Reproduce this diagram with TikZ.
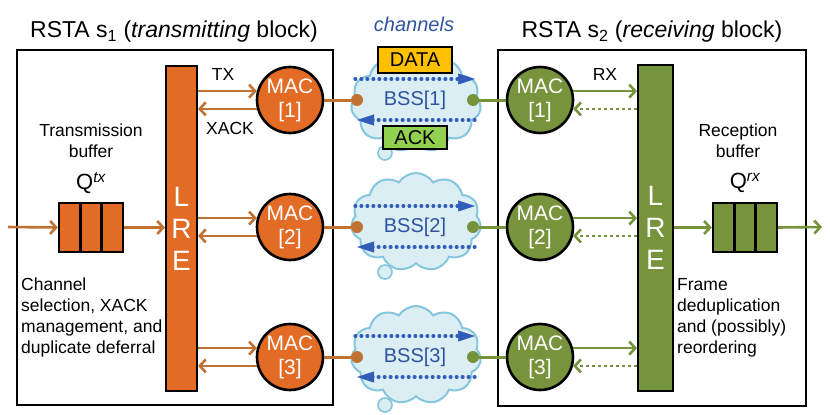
\documentclass[tikz,border=0pt]{standalone}
\usepackage{fontspec}
\setmainfont{Liberation Sans}
\usetikzlibrary{arrows.meta,shapes.symbols,positioning}
\definecolor{txfill}{RGB}{226,107,38}
\definecolor{txline}{RGB}{192,114,50}
\definecolor{rxfill}{RGB}{119,147,60}
\definecolor{rxline}{RGB}{118,146,58}
\definecolor{cloudfill}{RGB}{219,238,244}
\definecolor{cloudline}{RGB}{132,198,222}
\definecolor{chantext}{RGB}{46,84,160}
\definecolor{chanarrow}{RGB}{50,92,186}
\definecolor{datafill}{RGB}{255,192,0}
\definecolor{ackfill}{RGB}{146,208,80}
\tikzset{
  blockbox/.style={draw=black, line width=2.6pt},
  lrebar/.style={draw=black, line width=2pt, minimum width=31pt, minimum height=325pt,
    inner sep=0pt, text=white, align=center, font=\fontsize{28}{32}\selectfont},
  macnode/.style={circle, draw=black, line width=2.6pt, minimum size=66pt, inner sep=0pt,
    text=white, align=center, font=\fontsize{21}{24}\selectfont},
  cell/.style={draw=black, line width=2.4pt, minimum width=21.3pt, minimum height=49pt, inner sep=0pt},
  txarrow/.style={draw=txline, line width=2.6pt, -{Straight Barb[length=6pt,width=13pt]}},
  rxarrow/.style={draw=rxline, line width=2.6pt, -{Straight Barb[length=6pt,width=13pt]}},
  rxdots/.style={rxarrow, dash pattern=on 3pt off 3pt},
  chandots/.style={draw=chanarrow, line width=3.2pt, line cap=round, dash pattern=on 0.8pt off 5.2pt,
    shorten >=12pt},
  chantip/.style={draw=chanarrow, fill=chanarrow, line width=0.5pt, -{Triangle[length=17pt,width=11pt]}},
  chancloud/.style={cloud, cloud puffs=11, cloud puff arc=115, cloud ignores aspect, draw=cloudline,
    fill=cloudfill, line width=2pt, minimum width=130pt, minimum height=98pt},
  lbl/.style={font=\fontsize{17.5}{21}\selectfont, inner sep=0pt},
  pkt/.style={draw=black, line width=1.4pt, inner sep=0pt, font=\fontsize{20}{22}\selectfont},
}
\begin{document}
\begin{tikzpicture}[x=1pt, y=-1pt]
\useasboundingbox (0,0) rectangle (830,415);
% blocks
\draw[blockbox] (17,50) rectangle (333,405);
\draw[blockbox] (498,50) rectangle (806,406);
\node[font=\fontsize{23}{26}\selectfont] (titletx) at (174,32) {RSTA s\textsubscript{1} (\textit{transmitting} block)};
\node[font=\fontsize{23}{26}\selectfont] (titlerx) at (652,32) {RSTA s\textsubscript{2} (\textit{receiving} block)};
\node[font=\fontsize{20}{22}\selectfont\itshape, text=chantext] (chan) at (414,24) {channels};
% LRE bars
\node[lrebar, fill=txfill] (lreL) at (181.5,228.5) {L\\R\\E};
\node[lrebar, fill=rxfill, minimum width=35pt, minimum height=326pt] (lreR) at (655.5,228) {L\\R\\E};
% channels
\foreach \i/\y/\cy in {1/100/103,2/227/222,3/357/355}{
\node[chancloud] (bss\i) at (416,\cy) {};
\draw[cloudline, fill=cloudfill, line width=1.6pt] ([shift={(-31,50)}]bss\i.center) circle (7);
\node[text=chantext, font=\fontsize{20}{22}\selectfont] (bsslbl\i) at (415,\y) {BSS[\i]};
\node[macnode, fill=txfill] (macL\i) at (290,\y) {MAC\\{[\i]}};
\node[macnode, fill=rxfill] (macR\i) at (540,\y) {MAC\\{[\i]}};
\node[circle, fill=txline, minimum size=12pt, inner sep=0pt] (dL\i) at (357,\y) {};
\node[circle, fill=rxline, minimum size=12pt, inner sep=0pt] (dR\i) at (473,\y) {};
\draw[txline, line width=3pt] (macL\i) -- (dL\i);
\draw[rxline, line width=3pt] (dR\i) -- (macR\i);
\coordinate (up\i a) at ([shift={(-60,-21)}]bsslbl\i.center);
\coordinate (up\i b) at ([shift={(60,-21)}]bsslbl\i.center);
\coordinate (dn\i a) at ([shift={(60,20)}]bsslbl\i.center);
\coordinate (dn\i b) at ([shift={(-58,20)}]bsslbl\i.center);
\draw[chandots] (up\i a) -- (up\i b);
\draw[chantip] ([xshift=-14pt]up\i b) -- (up\i b);
\draw[chandots] (dn\i a) -- (dn\i b);
\draw[chantip] ([xshift=14pt]dn\i b) -- (dn\i b);
\draw[txarrow] (macL\i.165 -| lreL.east) -- (macL\i.165);
\draw[txarrow] (macL\i.195) -- (macL\i.195 -| lreL.east);
\draw[rxarrow] (macR\i.15) -- (macR\i.15 -| lreR.west);
\draw[rxdots] (macR\i.-15 -| lreR.west) -- (macR\i.-15);
}
\node[pkt, fill=datafill, minimum width=74pt, minimum height=26pt] (data) at (415,60) {DATA};
\node[pkt, fill=ackfill, minimum width=64pt, minimum height=23pt] (ack) at (415,137.5) {ACK};
% labels
\node[lbl] (tx) at (223,74) {TX};
\node[lbl] (xack) at (230,128) {XACK};
\node[lbl] (rx) at (605,74) {RX};
\node[lbl, align=center] (txbuf) at (91,141) {Transmission\\buffer};
\node[lbl, align=center] (rxbuf) at (738,141) {Reception\\buffer};
\node[font=\fontsize{22}{24}\selectfont] (qtxlbl) at (91,183) {Q\textsuperscript{\itshape tx}};
\node[font=\fontsize{22}{24}\selectfont] (qrxlbl) at (745,183) {Q\textsuperscript{\itshape rx}};
\node[lbl, align=left, anchor=west] (txnote) at (21,317.5) {Channel\\selection, XACK\\management, and\\duplicate deferral};
\node[lbl, align=left, anchor=west] (rxnote) at (677,317.5) {Frame\\deduplication\\and (possibly)\\reordering};
% buffers
\foreach \j/\x in {1/69.7,2/91,3/112.3}{
\node[cell, fill=txfill] (qtx\j) at (\x,227.5) {};
}
\foreach \j/\x in {1/723.7,2/745,3/766.3}{
\node[cell, fill=rxfill] (qrx\j) at (\x,227.5) {};
}
\coordinate (inL) at (8,227);
\coordinate (outR) at (822,227);
\draw[txarrow] (inL) -- (qtx1.west);
\draw[txarrow] (qtx3.east) -- (qtx3.east -| lreL.west);
\draw[rxarrow] (qrx1.west -| lreR.east) -- (qrx1.west);
\draw[rxarrow] (qrx3.east) -- (outR);
\end{tikzpicture}
\end{document}
